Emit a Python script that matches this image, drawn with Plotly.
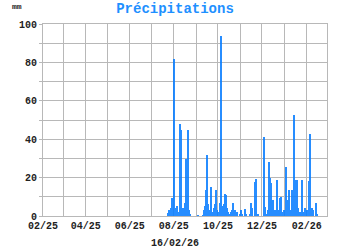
import plotly.graph_objects as go
import pandas as pd

dates = [
    "2025-07-24", "2025-07-25", "2025-07-26", "2025-07-28", "2025-07-29", "2025-07-30", "2025-07-31",
    "2025-08-01", "2025-08-02", "2025-08-04", "2025-08-05", "2025-08-06", "2025-08-07",
    "2025-08-10", "2025-08-11", "2025-08-13", "2025-08-14", "2025-08-16", "2025-08-18",
    "2025-08-19", "2025-08-20", "2025-08-21", "2025-08-22", "2025-08-23",
    "2025-09-04", "2025-09-10", "2025-09-12", "2025-09-13", "2025-09-14", "2025-09-15",
    "2025-09-16", "2025-09-17", "2025-09-18", "2025-09-20", "2025-09-21", "2025-09-22",
    "2025-09-23", "2025-09-25", "2025-09-27", "2025-09-28", "2025-09-29", "2025-09-30",
    "2025-10-02", "2025-10-04", "2025-10-05", "2025-10-06", "2025-10-07", "2025-10-08",
    "2025-10-10", "2025-10-11", "2025-10-12", "2025-10-13", "2025-10-14", "2025-10-15",
    "2025-10-17", "2025-10-19", "2025-10-21", "2025-10-22", "2025-10-23", "2025-10-24",
    "2025-10-26", "2025-10-28", "2025-10-31", "2025-11-02", "2025-11-04", "2025-11-07",
    "2025-11-09", "2025-11-14", "2025-11-16", "2025-11-17", "2025-11-21", "2025-11-22",
    "2025-11-23", "2025-11-25",
    "2025-12-04", "2025-12-05", "2025-12-07", "2025-12-09", "2025-12-11", "2025-12-12",
    "2025-12-13", "2025-12-14", "2025-12-15", "2025-12-16", "2025-12-17", "2025-12-19",
    "2025-12-21", "2025-12-22", "2025-12-23", "2025-12-25", "2025-12-26", "2025-12-27",
    "2025-12-28", "2025-12-30",
    "2026-01-01", "2026-01-03", "2026-01-04", "2026-01-05", "2026-01-06", "2026-01-07",
    "2026-01-08", "2026-01-09", "2026-01-10", "2026-01-11", "2026-01-12", "2026-01-13",
    "2026-01-14", "2026-01-15", "2026-01-16", "2026-01-17", "2026-01-18", "2026-01-19",
    "2026-01-20", "2026-01-22", "2026-01-24", "2026-01-26", "2026-01-27", "2026-01-29",
    "2026-02-02", "2026-02-04", "2026-02-05", "2026-02-06", "2026-02-08", "2026-02-09",
    "2026-02-10", "2026-02-14", "2026-02-15",
]
precip_mm = [
    1.5, 2.5, 3, 4, 5, 9.5, 3,
    82, 2, 4, 3, 5, 2,
    48, 45, 1, 4, 7, 29.5,
    12, 45, 12, 3, 1,
    0.5, 0.5, 3, 5, 4, 13.5,
    32, 6, 2, 3, 15, 8,
    2, 4, 6, 13.5, 9.5, 3,
    2, 7, 94, 7, 3, 5,
    6, 11.6, 11, 3, 4, 2,
    1, 2, 3, 6.6, 2, 3,
    1, 2, 1, 3, 1, 3.5,
    1, 1, 7, 4, 2, 17.7,
    19.4, 1,
    41.3, 4.8, 1, 3, 28, 20,
    17.4, 3, 8.3, 8.3, 3, 2,
    3, 18.7, 2, 3, 9.6, 10,
    1, 2,
    3, 25.7, 8.3, 3, 5, 12.7,
    13.5, 3, 2, 4, 13.5, 8,
    43.9, 52.6, 3, 18.7, 15.6, 18.7,
    4, 2, 1, 18.7, 2, 4,
    3, 18, 16, 42.7, 4, 3,
    3, 6.6, 1,
]

month_ticks = pd.date_range("2025-02-01", "2026-03-01", freq="MS")
month_labels = [d.strftime("%m/%y") if i % 2 == 0 else "" for i, d in enumerate(month_ticks)]
y_ticks = list(range(0, 101, 10))
y_labels = [str(v) if v % 20 == 0 else "" for v in y_ticks]
x_title = "16/02/26"

grid = "#B8B8B8"
tick_font = dict(family="Liberation Mono", size=10, color="#222222", weight="bold")

fig = go.Figure()
fig.add_trace(go.Bar(
    x=pd.to_datetime(dates), y=precip_mm,
    width=1.4 * 86400000,
    marker=dict(color="#0A7EFF", line=dict(width=0)),
    opacity=0.88,
))

fig.update_layout(
    width=350, height=250,
    margin=dict(l=43, r=23, t=24, b=34, autoexpand=False),
    paper_bgcolor="white", plot_bgcolor="white",
    showlegend=False, bargap=0,
    title=dict(text="Précipitations", x=0.5, xref="container", xanchor="center",
               y=1 - 8 / 250, yref="container", yanchor="middle",
               font=dict(family="Liberation Mono", size=14, color="#1E90FF", weight="bold")),
)
fig.add_annotation(text="mm", xref="paper", yref="paper", x=-33 / 284, y=1 + 18 / 192,
                   xanchor="left", yanchor="middle", showarrow=False,
                   font=dict(family="Liberation Mono", size=8, color="#222222", weight="bold"))
fig.add_annotation(text=x_title, xref="paper", yref="paper", x=(175 - 43) / 284, y=-27 / 192,
                   xanchor="center", yanchor="middle", showarrow=False, font=tick_font)

fig.update_xaxes(
    type="date", range=["2025-02-01", "2026-03-01"],
    tickvals=month_ticks, ticktext=month_labels,
    showgrid=True, gridcolor=grid, gridwidth=1,
    showline=True, linecolor=grid, linewidth=1, mirror=True,
    ticks="", tickfont=tick_font, automargin=False,
    zeroline=False,
)
fig.update_yaxes(
    range=[0, 100], tickvals=y_ticks, ticktext=y_labels,
    showgrid=True, gridcolor=grid, gridwidth=1,
    showline=True, linecolor=grid, linewidth=1, mirror=True,
    ticks="outside", ticklen=3, tickcolor=grid, tickfont=tick_font,
    zeroline=False, automargin=False,
)

fig.write_html("out.html")
